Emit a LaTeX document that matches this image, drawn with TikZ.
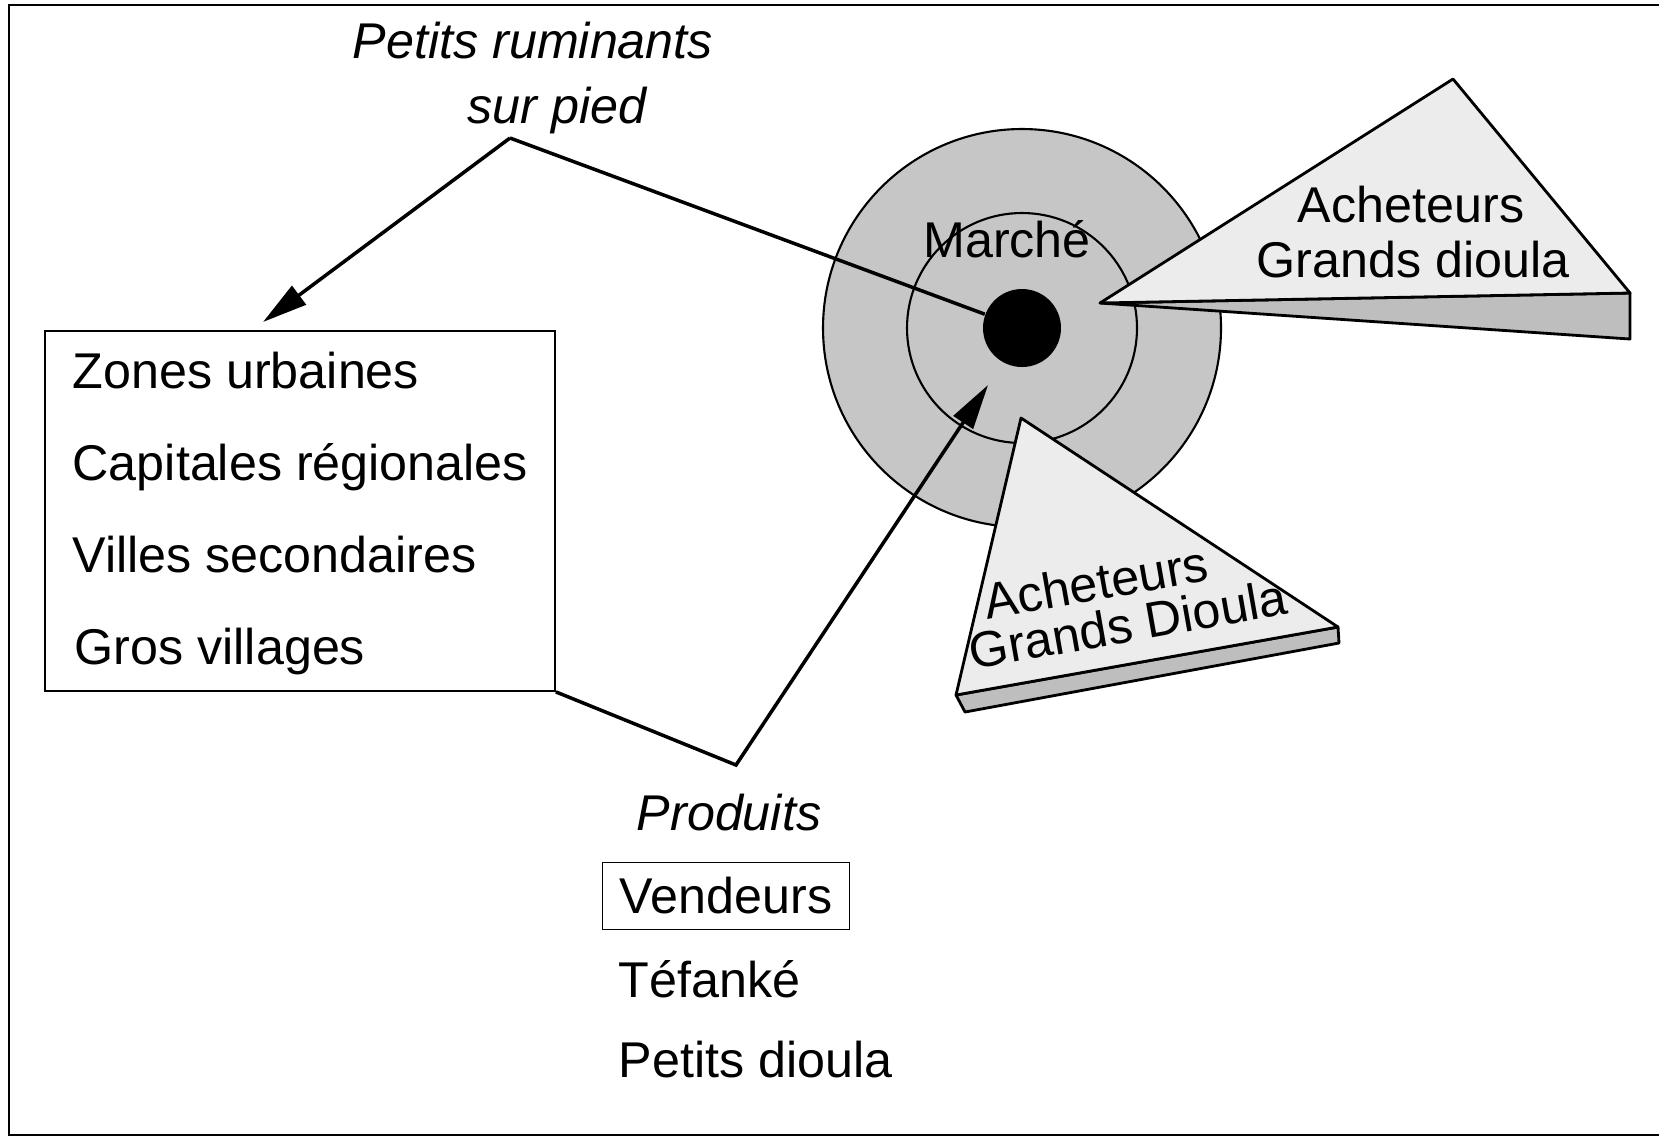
\documentclass[tikz,border=0pt]{standalone}
\usepackage{fontspec}
\setmainfont{Liberation Sans}
\usepackage{tikz}
\usetikzlibrary{arrows.meta,positioning,calc}
\usepackage{xcolor}
\definecolor{ringgray}{RGB}{198,198,198}
\definecolor{facegray}{RGB}{236,236,236}
\definecolor{slabgray}{RGB}{190,190,190}
\tikzstyle{link} = [line width=1pt]
\tikzstyle{arrow} = [line width=1pt,-{Triangle[length=4.5mm,width=2.3mm]}]
\tikzstyle{lbl} = [font=\fontsize{14.3}{17}\selectfont, inner sep=0pt]
\tikzstyle{ilbl} = [font=\fontsize{14.3}{17}\selectfont\itshape, inner sep=0pt]
\tikzstyle{tri} = [line width=0.8pt, line join=round]

\begin{document}
\begin{tikzpicture}[x=0.1mm, y=-0.1mm]
    \useasboundingbox (0,0) rectangle (1659,1138);
    % Frame
    \draw[line width=0.6pt] (1659,5) -- (9,5) -- (9,1135) -- (1659,1135);

    % Market rings
    \node[circle, draw, line width=0.6pt, fill=ringgray, minimum size=39.8mm, inner sep=0pt] (ring) at (1022,328) {};
    \node[circle, draw, line width=0.6pt, fill=ringgray, minimum size=23mm, inner sep=0pt] (core) at (1022,328) {};
    \node[circle, fill=black, minimum size=7.8mm, inner sep=0pt] (dot) at (1022,328) {};
    \node[lbl, anchor=base] (marche) at (1007,257) {Marché};

    % Buyers (upper wedge)
    \filldraw[tri, fill=slabgray] (1100,303) -- (1630,293) -- (1630,339) -- cycle;
    \filldraw[tri, fill=facegray] (1100,303) -- (1453,79) -- (1630,293) -- cycle;
    \node[lbl, anchor=base] (ach1) at (1411,222) {Acheteurs};
    \node[lbl, anchor=base] (gd1) at (1413,277) {Grands dioula};

    % Buyers (lower wedge)
    \filldraw[tri, fill=slabgray] (956,695) -- (1338,627) -- (1339,643) -- (965,712) -- cycle;
    \filldraw[tri, fill=facegray] (956,695) -- (1021,418) -- (1338,627) -- cycle;
    \node[lbl, rotate=10] (ach2) at (1096,582) {Acheteurs};
    \node[lbl, rotate=10] (gd2) at (1128,624) {Grands Dioula};

    % Destinations
    \node[rectangle, draw, line width=0.5pt, minimum width=51mm, minimum height=36mm, inner sep=0pt] (zones) at (300,511) {};
    \node[lbl, anchor=base west] (z1) at (72,388) {Zones urbaines};
    \node[lbl, anchor=base west] (z2) at (72,480) {Capitales régionales};
    \node[lbl, anchor=base west] (z3) at (72,572) {Villes secondaires};
    \node[lbl, anchor=base west] (z4) at (74,664) {Gros villages};

    % Flows
    \node[ilbl, anchor=base west] (pr) at (352,58) {Petits ruminants};
    \node[ilbl, anchor=base west] (sp) at (467,123) {sur pied};
    \coordinate (apex) at (510,138);
    \coordinate (boxtip) at (263,322);
    \coordinate (bend) at (736,765);
    \coordinate (dottip) at (988,385);
    \draw[link] (apex) -- (dot);
    \draw[arrow] (apex) -- (boxtip);
    \draw[arrow] (zones.south east) -- (bend) -- (dottip);

    % Sellers
    \node[ilbl, anchor=base] (prod) at (729,830) {Produits};
    \node[rectangle, draw, line width=0.5pt, minimum width=24.7mm, minimum height=6.7mm, inner sep=0pt, font=\fontsize{14.3}{17}\selectfont] (vend) at (726,896) {Vendeurs};
    \node[lbl, anchor=base west] (tef) at (618,997) {Téfanké};
    \node[lbl, anchor=base west] (pd) at (618,1077) {Petits dioula};
\end{tikzpicture}
\end{document}
